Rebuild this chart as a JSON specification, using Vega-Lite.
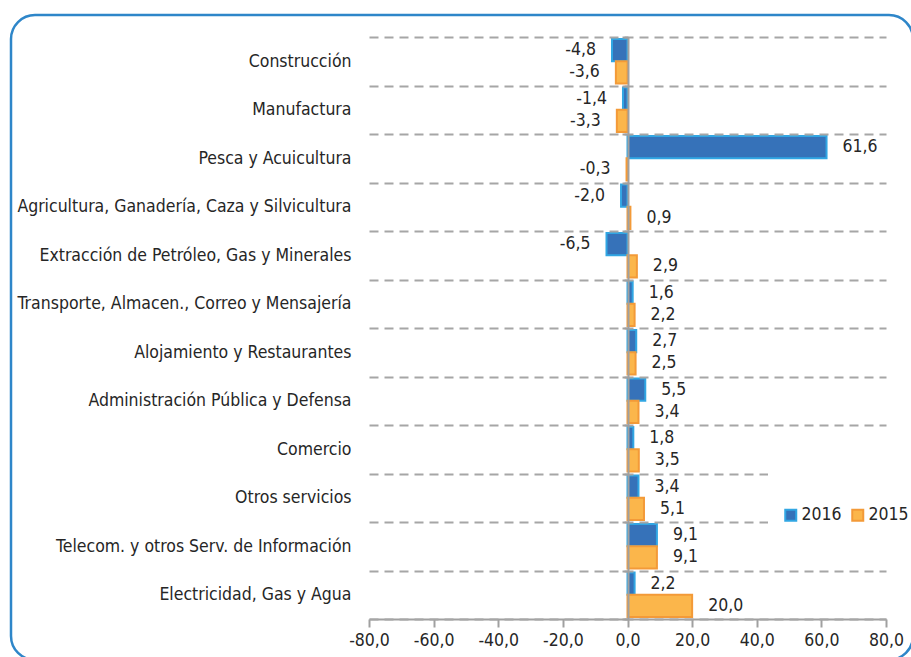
{
  "$schema": "https://vega.github.io/schema/vega-lite/v6.json",
  "width": 902,
  "height": 645,
  "autosize": {"type": "none"},
  "padding": {"left": 11, "top": 15, "right": 0, "bottom": 0},
  "background": "white",
  "config": {
    "locale": {"number": {"decimal": ",", "thousands": ".", "grouping": [3], "currency": ["", ""], "minus": "-"}},
    "view": {"stroke": "#2e86c9", "strokeWidth": 2.5, "cornerRadius": 24},
    "font": "DejaVu Sans Condensed, sans-serif",
    "text": {"font": "DejaVu Sans Condensed, sans-serif"}
  },
  "data": {
    "values": [
      {"sector": "Construcción", "year": "2016", "value": -4.8},
      {"sector": "Construcción", "year": "2015", "value": -3.6},
      {"sector": "Manufactura", "year": "2016", "value": -1.4},
      {"sector": "Manufactura", "year": "2015", "value": -3.3},
      {"sector": "Pesca y Acuicultura", "year": "2016", "value": 61.6},
      {"sector": "Pesca y Acuicultura", "year": "2015", "value": -0.3},
      {"sector": "Agricultura, Ganadería, Caza y Silvicultura", "year": "2016", "value": -2.0},
      {"sector": "Agricultura, Ganadería, Caza y Silvicultura", "year": "2015", "value": 0.9},
      {"sector": "Extracción de Petróleo, Gas y Minerales", "year": "2016", "value": -6.5},
      {"sector": "Extracción de Petróleo, Gas y Minerales", "year": "2015", "value": 2.9},
      {"sector": "Transporte, Almacen., Correo y Mensajería", "year": "2016", "value": 1.6},
      {"sector": "Transporte, Almacen., Correo y Mensajería", "year": "2015", "value": 2.2},
      {"sector": "Alojamiento y Restaurantes", "year": "2016", "value": 2.7},
      {"sector": "Alojamiento y Restaurantes", "year": "2015", "value": 2.5},
      {"sector": "Administración Pública y Defensa", "year": "2016", "value": 5.5},
      {"sector": "Administración Pública y Defensa", "year": "2015", "value": 3.4},
      {"sector": "Comercio", "year": "2016", "value": 1.8},
      {"sector": "Comercio", "year": "2015", "value": 3.5},
      {"sector": "Otros servicios", "year": "2016", "value": 3.4},
      {"sector": "Otros servicios", "year": "2015", "value": 5.1},
      {"sector": "Telecom. y otros Serv. de Información", "year": "2016", "value": 9.1},
      {"sector": "Telecom. y otros Serv. de Información", "year": "2015", "value": 9.1},
      {"sector": "Electricidad, Gas y Agua", "year": "2016", "value": 2.2},
      {"sector": "Electricidad, Gas y Agua", "year": "2015", "value": 20.0}
    ]
  },
  "encoding": {
    "y": {
      "field": "sector",
      "type": "nominal",
      "sort": [
        "Construcción", "Manufactura", "Pesca y Acuicultura",
        "Agricultura, Ganadería, Caza y Silvicultura",
        "Extracción de Petróleo, Gas y Minerales",
        "Transporte, Almacen., Correo y Mensajería",
        "Alojamiento y Restaurantes", "Administración Pública y Defensa",
        "Comercio", "Otros servicios",
        "Telecom. y otros Serv. de Información", "Electricidad, Gas y Agua"
      ],
      "scale": {"range": [22, 604], "paddingInner": 0, "paddingOuter": 0},
      "axis": {
        "title": null,
        "offset": -617,
        "zindex": 1,
        "tickBand": "extent",
        "domainColor": "#a0a0a0",
        "domainWidth": 2,
        "tickColor": "#a0a0a0",
        "tickWidth": 2,
        "tickSize": 6,
        "labelPadding": 271,
        "labelLimit": 500,
        "labelFontSize": 17.5,
        "labelColor": "#262626",
        "grid": true,
        "gridColor": "#a6a6a6",
        "gridWidth": 2,
        "gridDash": [9, 6]
      }
    },
    "yOffset": {
      "field": "year",
      "type": "nominal",
      "sort": ["2016", "2015"],
      "scale": {"paddingOuter": 0.09, "paddingInner": 0}
    },
    "x": {
      "field": "value",
      "type": "quantitative",
      "scale": {"domain": [-80, 80], "range": [358, 875], "nice": false, "zero": false},
      "axis": {
        "title": null,
        "offset": -41,
        "values": [-80, -60, -40, -20, 0, 20, 40, 60, 80],
        "format": ".1f",
        "labelOverlap": false,
        "labelFlush": false,
        "grid": false,
        "domainColor": "#a0a0a0",
        "domainWidth": 2,
        "tickColor": "#a0a0a0",
        "tickWidth": 2,
        "tickSize": 8,
        "labelPadding": 4,
        "labelFontSize": 17.5,
        "labelColor": "#262626"
      }
    }
  },
  "layer": [
    {
      "mark": {"type": "bar", "strokeWidth": 2},
      "encoding": {
        "color": {
          "field": "year",
          "type": "nominal",
          "scale": {"domain": ["2016", "2015"], "range": ["#3672b9", "#fbb64b"]},
          "legend": {
            "title": " ",
            "titleFontSize": 21,
            "titlePadding": 8,
            "orient": "none",
            "legendX": 757,
            "legendY": 448,
            "direction": "horizontal",
            "fillColor": "white",
            "padding": 14,
            "zindex": 2,
            "symbolType": "square",
            "symbolSize": 121,
            "symbolStrokeWidth": 2,
            "labelFontSize": 17.5,
            "labelColor": "#262626",
            "labelOffset": 2,
            "columnPadding": 6
          }
        },
        "stroke": {
          "field": "year",
          "type": "nominal",
          "scale": {"domain": ["2016", "2015"], "range": ["#31a6e3", "#f39a38"]}
        }
      }
    },
    {
      "transform": [{"filter": "datum.value >= 0"}],
      "mark": {"type": "text", "align": "left", "baseline": "middle", "dx": 16, "fontSize": 17.5, "color": "#262626"},
      "encoding": {"text": {"field": "value", "type": "quantitative", "format": ".1f"}}
    },
    {
      "transform": [{"filter": "datum.value < 0"}],
      "mark": {"type": "text", "align": "right", "baseline": "middle", "dx": -16, "fontSize": 17.5, "color": "#262626"},
      "encoding": {"text": {"field": "value", "type": "quantitative", "format": ".1f"}}
    }
  ]
}
